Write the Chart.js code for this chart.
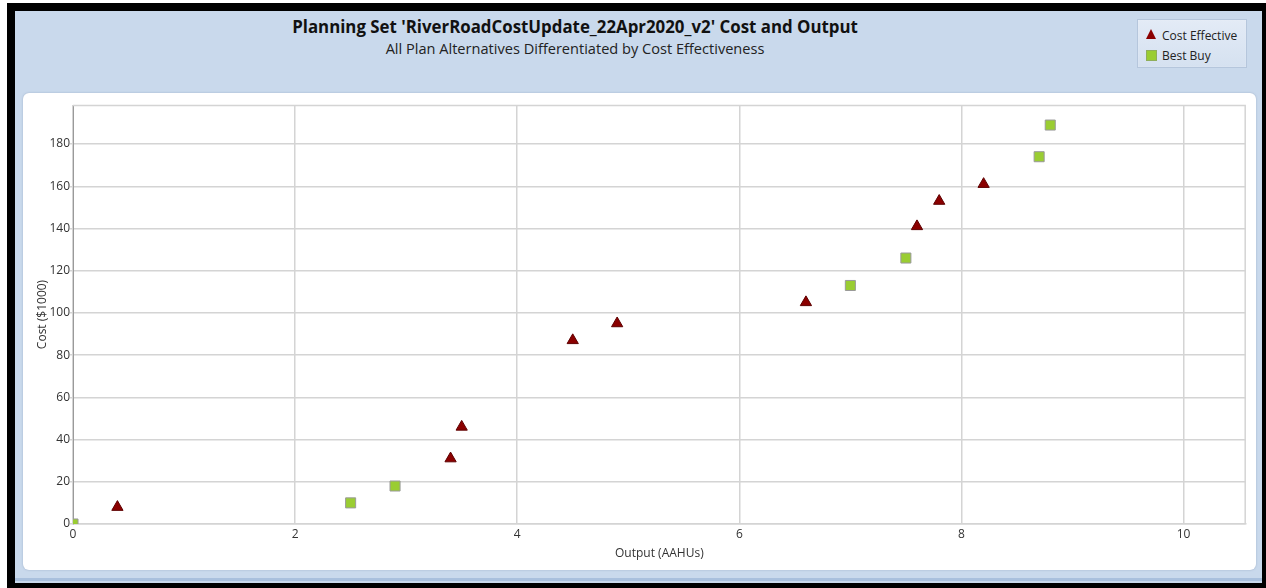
<!DOCTYPE html>
<html>
<head>
<meta charset="utf-8">
<script src="https://cdn.jsdelivr.net/npm/chart.js@4.4.1/dist/chart.umd.min.js"></script>
<style>
  html, body { margin: 0; padding: 0; background: #ffffff; width: 1266px; height: 588px; overflow: hidden; }
  #frame { position: absolute; left: 7px; top: 3px; width: 1259px; height: 585px; background: #000; }
  #blue { position: absolute; left: 15px; top: 11px; width: 1247px; height: 572px; background: #c9d9ec; }
  #blueline { position: absolute; left: 15px; top: 578px; width: 1247px; height: 3px; background: #a9c0dd; }
  #panel { position: absolute; left: 23px; top: 93px; width: 1233px; height: 477px; background: #fff; border-radius: 6px; box-shadow: 0 0 2px rgba(120,140,170,0.6); }
  #chartwrap { position: absolute; left: 23px; top: 93px; width: 1233px; height: 477px; }
  .t { position: absolute; left: 16px; width: 1118px; text-align: center; white-space: nowrap; color: #111; font-family: "Open Sans", "Noto Sans", sans-serif; }
  #title { top: 16px; font-weight: bold; font-size: 16px; line-height: 22px; }
  #subtitle { top: 38px; font-size: 14px; line-height: 20px; color: #222; }
  #legend { position: absolute; left: 1137px; top: 19px; width: 108px; height: 47px; border: 1px solid #b5c6dc; background: linear-gradient(#e3ebf6, #d5e1f0); box-shadow: 0 0 1px rgba(255,255,255,0.8) inset; font-family: "Open Sans", "Noto Sans", sans-serif; font-size: 12px; color: #222; }
  .li { position: absolute; left: 24px; line-height: 16px; white-space: nowrap; }
  .sym { position: absolute; }
</style>
</head>
<body>
<div id="frame"></div>
<div id="blue"></div>
<div id="blueline"></div>
<div id="panel"></div>
<div class="t" id="title"><span id="titletext"></span></div>
<div class="t" id="subtitle"><span id="subtitletext"></span></div>
<div id="legend"></div>
<div id="chartwrap"><canvas id="c" width="1233" height="477"></canvas></div>
<script>
// ---- Data ----
const chartTitle = "Planning Set 'RiverRoadCostUpdate_22Apr2020_v2' Cost and Output";
const chartSubtitle = "All Plan Alternatives Differentiated by Cost Effectiveness";
const xAxisTitle = "Output (AAHUs)";
const yAxisTitle = "Cost ($1000)";
const seriesNames = ["Cost Effective", "Best Buy"];

const costEffectiveOutput = [0.4, 3.4, 3.5, 4.5, 4.9, 6.6, 7.6, 7.8, 8.2];
const costEffectiveCost   = [8, 31, 46, 87, 95, 105, 141, 153, 161];

const bestBuyOutput = [0, 2.5, 2.9, 7.0, 7.5, 8.7, 8.8];
const bestBuyCost   = [0, 10, 18, 113, 126, 174, 189];

const xTickStep = 2;
const yTickStep = 20;
const xMax = 10.56;
const yMax = 198.5;

// ---- Styles ----
const ceColor = "#8b0000", ceBorder = "#5e0000";
const bbColor = "#9acd32", bbBorder = "#9a9a9a";
const fontFamily = '"Open Sans", "Noto Sans", sans-serif';

document.getElementById('titletext').textContent = chartTitle;
document.getElementById('subtitletext').textContent = chartSubtitle;

function fitWidth(id, target) {
  const el = document.getElementById(id);
  const parent = el.parentElement;
  const cur = parseFloat(getComputedStyle(parent).fontSize);
  const w = el.getBoundingClientRect().width;
  if (w > 0) parent.style.fontSize = (cur * target / w).toFixed(2) + 'px';
}
fitWidth('titletext', 566);
fitWidth('subtitletext', 379);

// Legend (HTML)
const legend = document.getElementById('legend');
legend.innerHTML =
  '<div class="sym" style="left:8px;top:9px;width:0;height:0;border-left:5.5px solid transparent;border-right:5.5px solid transparent;border-bottom:10px solid ' + ceColor + ';"></div>' +
  '<div class="li" style="top:8px;">' + seriesNames[0] + '</div>' +
  '<div class="sym" style="left:8px;top:30px;width:9px;height:9px;background:' + bbColor + ';border:1px solid #8fae5a;"></div>' +
  '<div class="li" style="top:28px;">' + seriesNames[1] + '</div>';

const toPoints = (xs, ys) => xs.map((x, i) => ({ x: x, y: ys[i] }));

const areaBorder = {
  id: 'areaBorder',
  afterDatasetsDraw(chart) {
    const { ctx, chartArea: a } = chart;
    ctx.save();
    ctx.strokeStyle = '#d4d4d4';
    ctx.lineWidth = 1.5;
    ctx.beginPath();
    ctx.moveTo(a.left, a.top + 0.5);
    ctx.lineTo(a.right - 0.5, a.top + 0.5);
    ctx.lineTo(a.right - 0.5, a.bottom);
    ctx.stroke();
    ctx.restore();
  }
};

new Chart(document.getElementById('c'), {
  type: 'scatter',
  data: {
    datasets: [
      {
        label: seriesNames[0],
        data: toPoints(costEffectiveOutput, costEffectiveCost),
        pointStyle: 'triangle',
        pointRadius: 6.5,
        pointHoverRadius: 6.5,
        backgroundColor: ceColor,
        borderColor: ceBorder,
        borderWidth: 1,
        clip: 0
      },
      {
        label: seriesNames[1],
        data: toPoints(bestBuyOutput, bestBuyCost),
        pointStyle: 'rect',
        pointRadius: 7.1,
        pointHoverRadius: 7.1,
        backgroundColor: bbColor,
        borderColor: bbBorder,
        borderWidth: 1,
        clip: 0
      }
    ]
  },
  options: {
    responsive: false,
    animation: false,
    events: [],
    layout: { padding: { left: 0, top: 12, right: 10.3, bottom: 0 } },
    plugins: {
      legend: { display: false },
      tooltip: { enabled: false },
      title: { display: false }
    },
    scales: {
      x: {
        type: 'linear',
        min: 0,
        max: xMax,
        afterFit(scale) { scale.height = 46; },
        ticks: {
          stepSize: xTickStep,
          includeBounds: false,
          padding: 3,
          color: '#333',
          font: { family: fontFamily, size: 12 },
          maxRotation: 0
        },
        grid: { color: '#d4d4d4', lineWidth: 1.5, drawTicks: false },
        border: { color: '#d4d4d4', width: 1.5 },
        title: {
          display: true,
          text: xAxisTitle,
          color: '#333',
          font: { family: fontFamily, size: 12 },
          padding: { top: 0, bottom: 9 }
        }
      },
      y: {
        type: 'linear',
        min: 0,
        max: yMax,
        afterFit(scale) { scale.width = 50; },
        ticks: {
          stepSize: yTickStep,
          includeBounds: false,
          padding: 0,
          color: '#333',
          font: { family: fontFamily, size: 12 }
        },
        grid: { color: '#d4d4d4', lineWidth: 1.5, drawTicks: true, tickLength: 3 },
        border: { color: '#9a9a9a', width: 1 },
        title: {
          display: true,
          text: yAxisTitle,
          color: '#333',
          font: { family: fontFamily, size: 12 },
          padding: { top: 12.5, bottom: 0 }
        }
      }
    }
  },
  plugins: [areaBorder]
});
</script>
</body>
</html>
